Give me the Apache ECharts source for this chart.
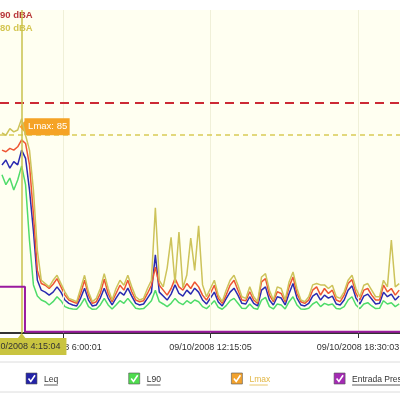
<!DOCTYPE html>
<html>
<head>
<meta charset="utf-8">
<script src="https://cdn.jsdelivr.net/npm/echarts@6/dist/echarts.min.js"></script>
<style>
  html, body { margin: 0; padding: 0; background: #fff; }
  #main { width: 400px; height: 400px; }
</style>
</head>
<body>
<div id="main"></div>
<script>
// tiempo en minutos desde 00:00 del 09/10/2008, una muestra cada 10 min
const sampleStart = 205;
const sampleStep = 10;

const leq = [71, 72.5, 70, 72, 71, 75.5, 73, 63.4, 51, 36,
  33, 32.4, 31.5, 32.4, 34, 32.4, 30, 29, 28.5, 28.2,
  30.6, 33.6, 30, 28.2, 28.5, 30.6, 33.6, 30.6, 28.5, 30.6,
  32.4, 31.5, 33.6, 31.2, 29, 28.5, 28.8, 30.6, 32.4, 43.7,
  32.4, 31.2, 30, 31.8, 34.6, 32, 31.2, 33, 31.8, 33.6,
  32.4, 30, 28.8, 30.6, 32.4, 29.4, 28.2, 30.4, 32.4, 33.6,
  31.5, 29, 28.8, 31, 29, 28.2, 33, 34, 30, 28.5,
  31, 30.6, 28.5, 32, 35, 30.6, 28.5, 28.2, 29, 31.2,
  32, 30, 31.5, 30.6, 31.2, 28.8, 28.5, 30, 33, 34.3,
  30.6, 28.8, 31.2, 31.8, 30.3, 28.8, 29, 32.4, 31, 31.8,
  30, 31.2];

const l10 = [75.5, 75, 76, 75.5, 76.5, 78.6, 77.5, 71, 56, 39,
  35, 34.5, 33.5, 34.8, 36.5, 34, 31.5, 30, 29.5, 29,
  32, 36, 31.5, 29, 29.5, 32, 36.3, 32, 29.5, 32,
  34.5, 33, 36, 32.5, 30, 29.5, 29.8, 32, 34.5, 40,
  34.5, 33, 31.5, 33.5, 36.5, 34, 33, 35, 33.5, 35.5,
  34, 31.5, 30, 32, 34.5, 30.5, 29, 31.5, 34.5, 36,
  33, 30, 29.8, 32.5, 30, 29, 35.5, 36.5, 31.5, 29.5,
  32.5, 32, 29.5, 34, 37, 32, 29.5, 29, 30, 33,
  34, 31.5, 33.5, 32, 33, 30, 29.5, 31.5, 35, 36.2,
  32, 30, 33, 33.5, 31.5, 30, 30, 34.5, 32.5, 33.5,
  31.5, 33];

const lmax = [80.7, 80, 82, 81, 81.6, 85, 80, 75.5, 63.4, 45,
  36, 35, 34, 36, 37.5, 35, 32.5, 30.5, 30, 29.5,
  33.5, 37.5, 32.5, 29.5, 30.5, 33.5, 38, 33.5, 30, 33.5,
  36, 34.5, 37.5, 34, 31, 30, 30.5, 33.5, 36, 58,
  36, 34, 39.7, 49, 35, 50.6, 33.7, 37.6, 48.8, 39,
  52.5, 34.6, 31, 33.5, 36, 31.5, 29.5, 33, 36, 37.5,
  34.5, 31, 30.5, 34, 31, 29.5, 37, 38, 33, 30,
  34, 33.5, 30, 35.5, 38.5, 33.5, 30, 29.5, 31, 34.6,
  35, 34.6, 34.6, 33.5, 34.5, 31, 30.5, 32.5, 36, 37.5,
  33.5, 31, 34.5, 35, 33, 31, 31, 36, 34, 48.2,
  34, 35];

const l90 = [68, 65, 67, 63.4, 66.4, 70.7, 65, 48, 34.6, 31.2,
  30, 29.5, 28.5, 29.5, 31, 29.8, 28, 27.5, 27.3, 27.2,
  28.5, 30.5, 28, 27.2, 27.3, 28.5, 30.5, 28.5, 27.3, 28.5,
  29.8, 29, 30.5, 29, 27.5, 27.3, 27.4, 28.5, 29.8, 33,
  29.5, 28.8, 28, 29, 30.5, 29.2, 28.6, 29.8, 29, 30,
  29.5, 28, 27.4, 28.5, 29.8, 27.8, 27.2, 28.3, 29.8, 30.5,
  29, 27.5, 27.4, 28.8, 27.5, 27.2, 30, 30.8, 28, 27.3,
  28.8, 28.5, 27.3, 29.5, 31, 28.5, 27.3, 27.2, 27.5, 28.8,
  29.5, 28, 29, 28.5, 28.8, 27.4, 27.3, 28, 30, 31,
  28.5, 27.4, 28.8, 29.2, 28.2, 27.4, 27.5, 29.8, 28.8, 29.2,
  28, 28.8];

// Entrada Presión (escalon)
const entTimes = [200, 263.5, 263.5, 1217];
const entValues = [34, 34, 20.4, 20.4];

const tickTimes = [360.0167, 735.0833, 1110.05];
const tickLabels = ['09/10/2008 6:00:01', '09/10/2008 12:15:05', '09/10/2008 18:30:03'];

const cursorTime = 255.07;
const cursorLabel = '09/10/2008 4:15:04';
const cursorLmax = 85;

const limitValues = [90, 80];
const limitLabels = ['90 dBA', '80 dBA'];

const legendNames = ['Leq', 'L90', 'Lmax', 'Entrada Presión'];
const legendColors = ['#2323a8', '#4fdc4f', '#f2a22e', '#a42ab4'];
const legendTextColors = ['#333', '#333', '#e2b746', '#333'];

const sampleTimes = leq.map((_, i) => sampleStart + i * sampleStep);
const pairs = vals => vals.map((v, i) => [sampleTimes[i], v]);

const FONT = '"Liberation Sans", Arial, sans-serif';

let myChart = echarts.init(document.getElementById('main'));

// leyenda dibujada a mano (casillas con check)
let graphics = [
  { type: 'line', shape: { x1: 0, y1: 362, x2: 400, y2: 362 }, style: { stroke: '#dcdcdc', lineWidth: 1 } },
  { type: 'line', shape: { x1: 0, y1: 392, x2: 400, y2: 392 }, style: { stroke: '#dcdcdc', lineWidth: 1 } },
  { type: 'text', left: 0, top: 10, style: { text: limitLabels[0], fill: '#b83838', font: 'bold 9.5px ' + FONT } },
  { type: 'text', left: 0, top: 23, style: { text: limitLabels[1], fill: '#d4c652', font: 'bold 9.5px ' + FONT } }
];
legendNames.forEach((name, k) => {
  const bx = 26 + k * 102.7, by = 373;
  graphics.push({ type: 'rect', shape: { x: bx, y: by, width: 11, height: 11 },
    style: { fill: legendColors[k], stroke: '#555', lineWidth: 0.6 } });
  graphics.push({ type: 'polyline', shape: { points: [[bx + 2.5, by + 5.5], [bx + 4.8, by + 8.5], [bx + 9, by + 2.2]] },
    style: { stroke: '#fff', lineWidth: 1.6, fill: null } });
  graphics.push({ type: 'text', x: bx + 18, y: by + 2, style: { text: name, fill: legendTextColors[k], font: '8.5px ' + FONT } });
  const w = name.length * 4.6;
  graphics.push({ type: 'line', shape: { x1: bx + 18, y1: by + 12, x2: bx + 18 + w, y2: by + 12 },
    style: { stroke: legendTextColors[k], lineWidth: 0.8 } });
});

const lineBase = { type: 'line', showSymbol: false, symbol: 'none', smooth: false, silent: true };

myChart.setOption({
  animation: false,
  backgroundColor: '#fff',
  textStyle: { fontFamily: FONT },
  grid: {
    left: 0, right: 0, top: 10, bottom: 67,
    outerBoundsMode: 'none', containLabel: false,
    show: true, backgroundColor: '#fffff1', borderWidth: 0
  },
  xAxis: {
    type: 'value',
    min: 200,
    max: 1217,
    axisLine: { show: true, lineStyle: { color: '#333', width: 2 } },
    axisTick: { show: true, length: 5, customValues: tickTimes, lineStyle: { color: '#333', width: 1 } },
    axisLabel: {
      customValues: tickTimes,
      margin: 10,
      fontSize: 9,
      color: '#333',
      formatter: v => {
        let best = 0;
        tickTimes.forEach((t, k) => { if (Math.abs(t - v) < Math.abs(tickTimes[best] - v)) best = k; });
        return tickLabels[best];
      }
    },
    splitLine: { show: false }
  },
  yAxis: { type: 'value', min: 20, max: 118, show: false },
  graphic: graphics,
  series: [
    Object.assign({}, lineBase, {
      name: 'L90', data: pairs(l90), z: 2,
      lineStyle: { color: '#4fdc6a', width: 1.5 },
      markLine: {
        silent: true, symbol: 'none', label: { show: false },
        lineStyle: { color: '#f0f0d8', width: 1, type: 'solid' },
        data: tickTimes.map(t => ({ xAxis: t }))
      }
    }),
    Object.assign({}, lineBase, {
      name: 'Leq', data: pairs(leq), z: 3,
      lineStyle: { color: '#2a2ab0', width: 1.5 },
      markLine: {
        silent: true, symbol: 'none', label: { show: false },
        data: [
          { yAxis: limitValues[0], lineStyle: { color: '#cc2a35', width: 2, type: [9, 6] } },
          { yAxis: limitValues[1], lineStyle: { color: '#d9cc55', width: 1.6, type: [5, 4] } }
        ]
      }
    }),
    Object.assign({}, lineBase, {
      name: 'L10', data: pairs(l10), z: 4,
      lineStyle: { color: '#ee5533', width: 1.5 }
    }),
    Object.assign({}, lineBase, {
      name: 'Lmax', data: pairs(lmax), z: 5,
      lineStyle: { color: '#cdc35a', width: 1.5 },
      markLine: {
        silent: true, symbol: 'none',
        lineStyle: { color: '#c9c24c', width: 1.5, type: 'solid' },
        label: {
          show: true, position: 'start', distance: 5,
          formatter: cursorLabel,
          backgroundColor: '#c9c440', color: '#333', padding: [4, 6],
          fontSize: 9, fontFamily: FONT
        },
        data: [{ xAxis: cursorTime }]
      },
      markPoint: {
        silent: true,
        data: [{
          coord: [cursorTime, cursorLmax], value: cursorLmax,
          symbol: 'path://M0,8.5L5,3L5,0L52,0L52,17L5,17L5,14Z',
          symbolSize: [50, 17], symbolOffset: [23, 8],
          itemStyle: { color: '#f5a325' },
          label: { show: true, position: 'inside', formatter: 'Lmax: {c}', color: '#fff', fontSize: 9.5, offset: [3, 0] }
        }]
      }
    }),
    Object.assign({}, lineBase, {
      name: 'Entrada Presión', data: entTimes.map((t, i) => [t, entValues[i]]), z: 6,
      lineStyle: { color: '#9a1a9f', width: 2 },
      markPoint: {
        silent: true,
        data: [{
          coord: [cursorTime, 20], symbol: 'triangle', symbolSize: [9, 6], symbolOffset: [0, 3],
          itemStyle: { color: '#c9c440' }, label: { show: false }
        }]
      }
    })
  ]
});

window.addEventListener('resize', () => { myChart.resize(); });
</script>
</body>
</html>
